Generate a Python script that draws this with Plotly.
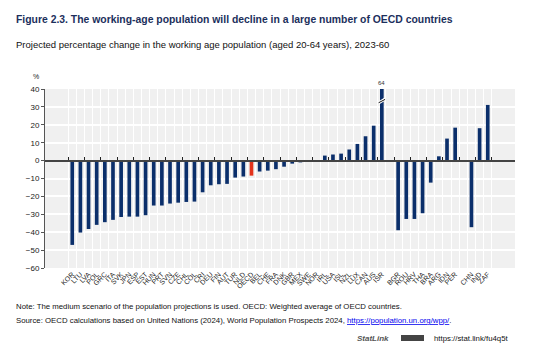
import plotly.graph_objects as go

# OECD countries (sorted) plus the OECD weighted average
oecd_codes = ["KOR", "LTU", "LVA", "POL", "GRC", "ITA", "SVK", "JPN", "ESP", "EST",
              "HUN", "PRT", "SVN", "CZE", "CHL", "COL", "CRI", "DEU", "FIN", "AUT",
              "TUR", "NLD", "OECD", "BEL", "CHE", "FRA", "DNK", "GBR", "MEX", "SWE",
              "NOR", "IRL", "USA", "ISL", "NZL", "LUX", "CAN", "AUS", "ISR"]
oecd_values = [-47.1, -40.2, -38.2, -35.9, -34.4, -33.1, -31.5, -31.3, -31.3, -30.5,
               -25.1, -25.1, -24.0, -23.5, -23.1, -22.9, -17.7, -13.8, -13.2, -13.0,
               -9.5, -8.9, -8.4, -6.1, -5.6, -4.8, -3.4, -1.7, -1.0, 0.2,
               0.3, 2.8, 3.4, 3.9, 6.2, 9.3, 13.6, 19.5, 64.0]

# Accession candidates
cand_codes = ["BGR", "ROU", "HRV", "THA", "BRA", "ARG", "IDN", "PER"]
cand_values = [-38.9, -32.6, -32.6, -29.4, -12.3, 2.4, 12.3, 18.4]

# Other partner economies
partner_codes = ["CHN", "IND", "ZAF"]
partner_values = [-37.2, 18.1, 31.1]

y_ticks = [40, 30, 20, 10, 0, -10, -20, -30, -40, -50, -60]
y_min, y_max = -60, 40

NAVY = "#0b2f6b"
RED = "#e3321b"
TITLE_BLUE = "#1c2f5c"
FONT = "Liberation Sans, Arial, sans-serif"

# Blank slots separate the three groups on the category axis
gap1, gap2 = " ", "  "
cats = oecd_codes + [gap1] + cand_codes + [gap2] + partner_codes
vals = oecd_values + [None] + cand_values + [None] + partner_values
colors = [RED if c == "OECD" else NAVY for c in cats]

W, H = 549, 347
L, R, T, B = 45, 515, 89, 268
PW, PH = R - L, B - T


def px(x):
    return (x - L) / PW


def py(y):
    return (B - y) / PH


fig = go.Figure()
fig.add_trace(go.Bar(x=cats, y=vals, marker=dict(color=colors, line=dict(width=0)),
                     width=0.45, hoverinfo="x+y", showlegend=False))
# companion trace that carries the category axis drawn along y = 0
fig.add_trace(go.Scatter(x=cats, y=[None] * len(cats), xaxis="x2", mode="markers",
                         showlegend=False, hoverinfo="skip"))

fig.update_layout(
    width=W, height=H,
    margin=dict(l=L, r=W - R, t=T, b=H - B, pad=0),
    paper_bgcolor="white",
    plot_bgcolor="#f0f0f0",
    bargap=0.55,
    xaxis=dict(type="category", categoryorder="array", categoryarray=cats,
               tickson="boundaries", showgrid=True, gridcolor="white", gridwidth=1,
               ticks="", showline=False, zeroline=False, tickangle=-45,
               tickfont=dict(family=FONT, size=7, color="#222")),
    xaxis2=dict(type="category", categoryorder="array", categoryarray=cats,
                overlaying="x", matches="x", anchor="free",
                position=(0 - y_min) / (y_max - y_min),
                side="top", showline=True, linecolor="#444", linewidth=1.5,
                ticks="outside", ticklen=3, tickwidth=1, tickcolor="#222",
                tickson="boundaries", showticklabels=False, showgrid=False, zeroline=False),
    yaxis=dict(range=[y_min, y_max], tickvals=y_ticks, showgrid=True, gridcolor="white",
               gridwidth=1.5, zeroline=False, showline=True, linecolor="#555", linewidth=1,
               ticks="outside", ticklen=3, tickcolor="#555",
               tickfont=dict(family=FONT, size=8, color="#222")),
)

# value label and axis-break mark for the bar exceeding the scale
isr_idx = cats.index("ISR")
isr_val = vals[isr_idx]
fig.add_annotation(x="ISR", y=y_max, yanchor="bottom", yshift=1, text=f"{isr_val:.0f}",
                   showarrow=False, font=dict(family=FONT, size=6, color="#333"))
fig.add_shape(type="line", xref="x", yref="y", x0=isr_idx - 0.45, x1=isr_idx + 0.45,
              y0=32.0, y1=34.5, line=dict(color="white", width=3))
fig.add_shape(type="line", xref="x", yref="y", x0=isr_idx - 0.4, x1=isr_idx + 0.4,
              y0=32.3, y1=34.2, line=dict(color="#111", width=1))

ann = [
    dict(x=px(14), y=py(20), text="<b>Figure 2.3. The working-age population will decline in a large number of OECD countries</b>",
         font=dict(family=FONT, size=10.4, color=TITLE_BLUE)),
    dict(x=px(14), y=py(44), text="Projected percentage change in the working age population (aged 20-64 years), 2023-60",
         font=dict(family=FONT, size=9.5, color="#111")),
    dict(x=px(31), y=py(76), text="%", font=dict(family=FONT, size=7, color="#222")),
    dict(x=px(14), y=py(306), text="Note: The medium scenario of the population projections is used. OECD: Weighted average of OECD countries.",
         font=dict(family=FONT, size=7.8, color="#111")),
    dict(x=px(14), y=py(320),
         text='Source: OECD calculations based on United Nations (2024), World Population Prospects 2024, '
              '<a href="https://population.un.org/wpp/"><span style="color:#0000ee;text-decoration:underline">https://population.un.org/wpp/</span></a>.',
         font=dict(family=FONT, size=7.8, color="#111")),
    dict(x=px(355), y=py(338), text="<b><i>StatLink</i></b>",
         font=dict(family=FONT, size=8, color="#555")),
    dict(x=px(432), y=py(338), text="https://stat.link/fu4q5t",
         font=dict(family=FONT, size=7.8, color="#111")),
]
for a in ann:
    fig.add_annotation(xref="paper", yref="paper", xanchor="left", yanchor="middle",
                       showarrow=False, **a)

# small StatLink badge
fig.add_shape(type="rect", xref="paper", yref="paper", x0=px(401), x1=px(424),
              y0=py(341), y1=py(335), fillcolor="#444", line=dict(width=0))

fig.write_html("out.html")
